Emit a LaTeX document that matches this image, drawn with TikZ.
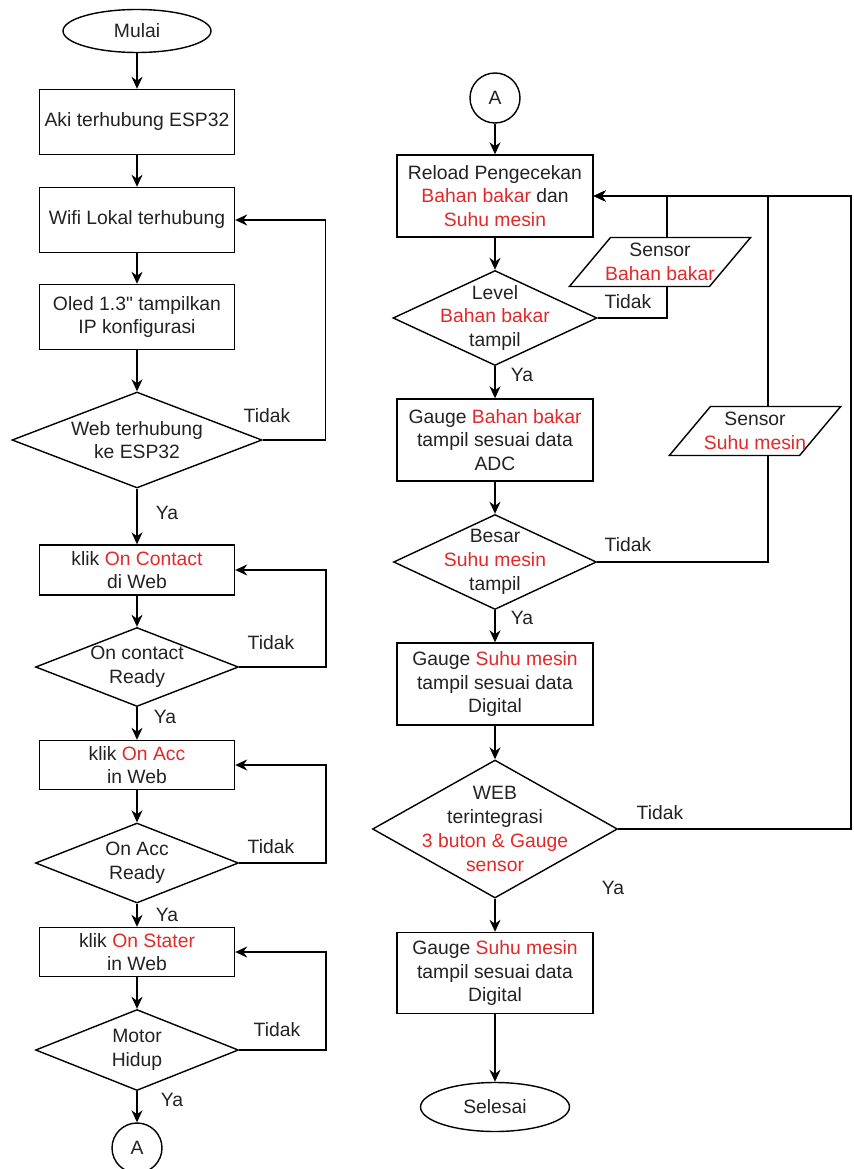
\documentclass[tikz,border=0pt]{standalone}
\usepackage{fontspec}
\setmainfont{Liberation Sans}[Ligatures=TeXOff]
\usepackage{xcolor}
\usetikzlibrary{shapes,arrows.meta,positioning}
\definecolor{redtxt}{RGB}{226,40,40}
\definecolor{inkgray}{RGB}{34,34,34}
\newcommand{\merah}[1]{\textcolor{redtxt}{#1}}
\tikzset{proc/.style={rectangle,draw,align=center,minimum width=3.9cm,inner sep=0pt},
  dec/.style={diamond,draw,align=center,inner sep=-1cm},
  io/.style={trapezium,trapezium left angle=50,trapezium right angle=130,draw,align=center,inner ysep=0pt,inner xsep=-0.34cm,minimum height=0.98cm},
  term/.style={ellipse,draw,minimum width=2.96cm,minimum height=0.86cm,inner sep=0pt},
  conn/.style={circle,draw,minimum size=1cm,inner sep=0pt}}

\begin{document}
\begin{tikzpicture}[x=0.02cm,y=-0.02cm,>={Stealth[length=2.4mm,width=2.2mm]},line width=0.8pt,
    font=\fontsize{11}{13.5}\selectfont,text=inkgray]
    \useasboundingbox (0,0) rectangle (854,1169);

    % kolom kiri
    \node[term] (mulai) at (137,31) {Mulai};
    \node[proc,minimum height=1.3cm] (aki) at (137,122) {Aki terhubung ESP32};
    \node[proc,minimum height=1.3cm] (wifi) at (137,220) {Wifi Lokal terhubung};
    \node[proc,minimum height=1.3cm] (oled) at (137,317) {Oled 1.3" tampilkan\\IP konfigurasi};
    \node[dec,minimum width=5cm,minimum height=1.92cm] (web) at (137,440) {Web terhubung\\ke ESP32};
    \node[proc,minimum height=1cm] (kcon) at (137,570) {klik \merah{On Contact}\\di Web};
    \node[dec,minimum width=4.06cm,minimum height=1.58cm] (rcon) at (137,667) {On contact\\Ready};
    \node[proc,minimum height=0.98cm] (kacc) at (137,765) {klik \merah{On Acc}\\in Web};
    \node[dec,minimum width=4.06cm,minimum height=1.6cm] (racc) at (137,863) {On Acc\\Ready};
    \node[proc,minimum height=0.98cm] (kst) at (137,952) {klik \merah{On Stater}\\in Web};
    \node[dec,minimum width=4.06cm,minimum height=1.62cm] (motor) at (137,1050) {Motor\\Hidup};
    \node[conn] (a1) at (137,1148) {A};

    % kolom kanan
    \node[conn] (a2) at (495,98) {A};
    \node[proc,minimum width=3.92cm,minimum height=1.64cm] (reload) at (495,196) {Reload Pengecekan\\\merah{Bahan bakar} dan\\\merah{Suhu mesin}};
    \node[io] (sbb) at (660,262) {Sensor\\\merah{Bahan bakar}};
    \node[dec,minimum width=4.08cm,minimum height=1.9cm] (level) at (495,318) {Level\\\merah{Bahan bakar}\\tampil};
    \node[proc,minimum width=3.92cm,minimum height=1.64cm] (gbb) at (495,440) {Gauge \merah{Bahan bakar}\\tampil sesuai data\\ADC};
    \node[io] (ssm) at (755,431) {Sensor\\\merah{Suhu mesin}};
    \node[dec,minimum width=4.06cm,minimum height=1.9cm] (besar) at (495,562) {Besar\\\merah{Suhu mesin}\\tampil};
    \node[proc,minimum width=3.92cm,minimum height=1.64cm] (gsm) at (495,684) {Gauge \merah{Suhu mesin}\\tampil sesuai data\\Digital};
    \node[dec,minimum width=4.9cm,minimum height=2.76cm] (webi) at (495,829) {WEB\\terintegrasi\\\merah{3 buton \& Gauge}\\\merah{sensor}};
    \node[proc,minimum width=3.92cm,minimum height=1.62cm] (gsm2) at (495,973) {Gauge \merah{Suhu mesin}\\tampil sesuai data\\Digital};
    \node[term,minimum width=2.98cm,minimum height=0.98cm] (selesai) at (495,1107) {Selesai};

    % label cabang
    \node (t1) at (267,416) {Tidak};
    \node (t2) at (271,643) {Tidak};
    \node (t3) at (271,847) {Tidak};
    \node (t4) at (277,1030) {Tidak};
    \node (t5) at (628,302) {Tidak};
    \node (t6) at (628,545) {Tidak};
    \node (t7) at (660,813) {Tidak};
    \node (y1) at (167,513) {Ya};
    \node (y2) at (165,717) {Ya};
    \node (y3) at (167,915) {Ya};
    \node (y4) at (172,1100) {Ya};
    \node (y5) at (522,375) {Ya};
    \node (y6) at (522,618) {Ya};
    \node (y7) at (613,888) {Ya};

    \draw [->] (mulai) to (aki);
    \draw [->] (aki) to (wifi);
    \draw [->] (wifi) to (oled);
    \draw [->] (oled) to (web);
    \draw [->] (web) to (kcon);
    \draw [->] (kcon) to (rcon);
    \draw [->] (rcon) to (kacc);
    \draw [->] (kacc) to (racc);
    \draw [->] (racc) to (kst);
    \draw [->] (kst) to (motor);
    \draw [->] (motor) to (a1);
    \draw [->] (web.east) -- ++(63,0) |- (wifi.east);
    \draw [->] (rcon.east) -- ++(87,0) |- (kcon.east);
    \draw [->] (racc.east) -- ++(87,0) |- (kacc.east);
    \draw [->] (motor.east) -- ++(87,0) |- (kst.east);

    \draw [->] (a2) to (reload);
    \draw [->] (reload) to (level);
    \draw [->] (level) to (gbb);
    \draw [->] (gbb) to (besar);
    \draw [->] (besar) to (gsm);
    \draw [->] (gsm) to (webi);
    \draw [->] (webi) to (gsm2);
    \draw [->] (gsm2) to (selesai);
    \draw (level.east) -| ([xshift=0.14cm]sbb.south);
    \draw [->] ([xshift=0.14cm]sbb.north) |- (reload.east);
    \draw (besar.east) -| ([xshift=0.26cm]ssm.south);
    \draw [->] ([xshift=0.26cm]ssm.north) |- (reload.east);
    \draw [->] (webi.east) -- ++(233,0) |- (reload.east);
\end{tikzpicture}
\end{document}
